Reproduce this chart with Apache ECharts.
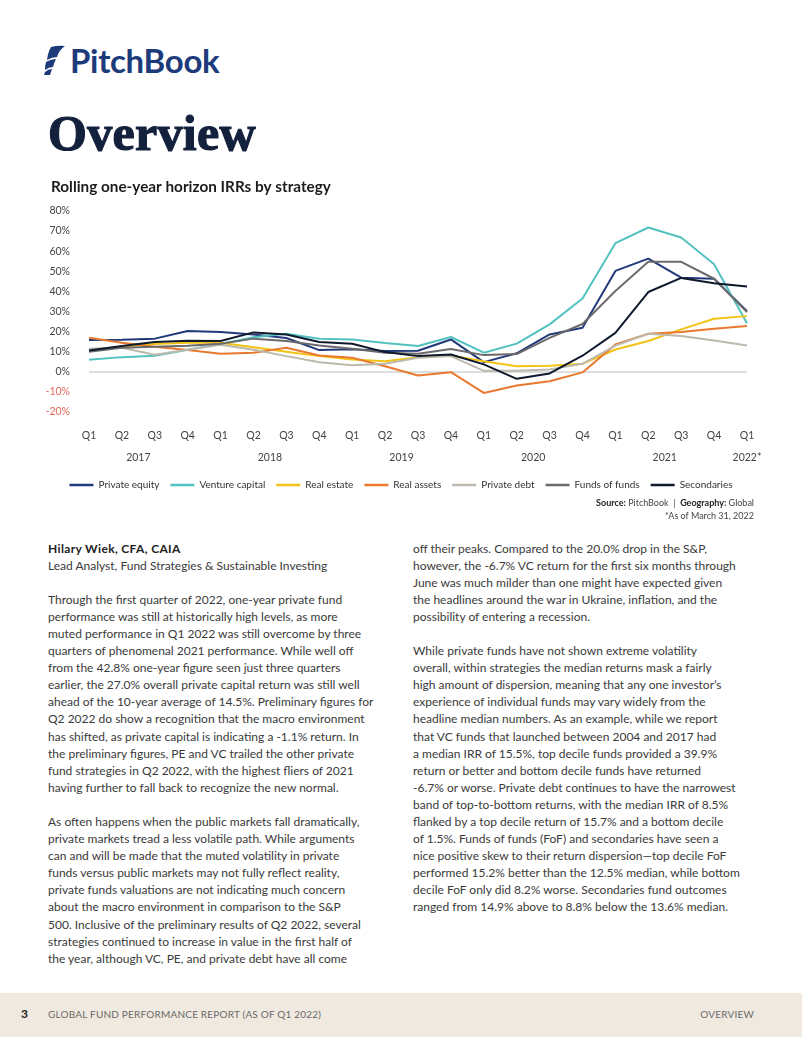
<!DOCTYPE html>
<html>
<head>
<meta charset="utf-8">
<script src="https://cdn.jsdelivr.net/npm/echarts@6/dist/echarts.min.js"></script>
<style>
  html, body { margin: 0; padding: 0; background: #fff; }
  body { width: 802px; height: 1037px; position: relative; overflow: hidden; font-family: Lato, "Noto Sans", sans-serif; }
  .abs { position: absolute; }
  #logo { left: 44px; top: 42px; height: 36px; display: flex; align-items: center; }
  #logo span { font-family: Lato, sans-serif; font-weight: 700; font-size: 33px; color: #1d3b7b; letter-spacing: -0.3px; margin-left: 4px; }
  #title { left: 48px; top: 104px; font-family: "Liberation Serif", serif; font-weight: 700; font-size: 50px; color: #14213d; -webkit-text-stroke: 1.2px #14213d; letter-spacing: 0.3px; }
  #chart { left: 0; top: 170px; width: 802px; height: 330px; }
  .src { right: 48px; font-family: Lato, sans-serif; font-size: 9px; color: #444; text-align: right; white-space: nowrap; }
  .col { font-family: Lato, sans-serif; font-size: 12px; color: #3a3a3a; line-height: 17.1px; white-space: nowrap; }
  .col div { height: 17.1px; }
  #footer { left: 0; top: 993px; width: 802px; height: 44px; background: #f0e9df; }
  #footer .n { position: absolute; left: 21px; top: 13px; font-weight: 700; font-size: 12px; color: #222; }
  #footer .t { position: absolute; left: 48px; top: 15px; font-size: 10px; color: #6a6a6a; letter-spacing: 0.2px; }
  #footer .r { position: absolute; right: 48px; top: 15px; font-size: 10px; color: #6a6a6a; letter-spacing: 0.2px; }
</style>
</head>
<body>
<div id="logo" class="abs">
  <svg width="22" height="30" viewBox="0 0 22 30">
    <path d="M7 2 Q14 0 21 1 Q15 5 13 12 Q8 12 3 15 Q4 7 7 2 Z" fill="#1d3b7b"/>
    <path d="M2 17 Q7 14 12 14 Q10 18 9 22 Q5 22 1 25 Q1 20 2 17 Z" fill="#1d3b7b"/>
    <path d="M1 27 Q4 24 8 24 Q7 27 6 30 Q3 30 0 30 Z" fill="#1d3b7b"/>
  </svg>
  <span>PitchBook</span>
</div>
<div id="title" class="abs">Overview</div>
<div id="chart" class="abs"></div>
<div class="abs src" style="top:497px;"><b style="color:#222">Source:</b> PitchBook &nbsp;|&nbsp; <b style="color:#222">Geography:</b> Global</div>
<div class="abs src" style="top:510px;">*As of March 31, 2022</div>

<div class="abs col" style="left:48px; top:539.5px;">
  <div style="font-weight:700; color:#222; letter-spacing:0.35px;">Hilary Wiek, CFA, CAIA</div>
  <div>Lead Analyst, Fund Strategies &amp; Sustainable Investing</div>
  <div></div>
  <div>Through the first quarter of 2022, one-year private fund</div>
  <div>performance was still at historically high levels, as more</div>
  <div>muted performance in Q1 2022 was still overcome by three</div>
  <div>quarters of phenomenal 2021 performance. While well off</div>
  <div>from the 42.8% one-year figure seen just three quarters</div>
  <div>earlier, the 27.0% overall private capital return was still well</div>
  <div>ahead of the 10-year average of 14.5%. Preliminary figures for</div>
  <div>Q2 2022 do show a recognition that the macro environment</div>
  <div>has shifted, as private capital is indicating a -1.1% return. In</div>
  <div>the preliminary figures, PE and VC trailed the other private</div>
  <div>fund strategies in Q2 2022, with the highest fliers of 2021</div>
  <div>having further to fall back to recognize the new normal.</div>
  <div></div>
  <div>As often happens when the public markets fall dramatically,</div>
  <div>private markets tread a less volatile path. While arguments</div>
  <div>can and will be made that the muted volatility in private</div>
  <div>funds versus public markets may not fully reflect reality,</div>
  <div>private funds valuations are not indicating much concern</div>
  <div>about the macro environment in comparison to the S&amp;P</div>
  <div>500. Inclusive of the preliminary results of Q2 2022, several</div>
  <div>strategies continued to increase in value in the first half of</div>
  <div>the year, although VC, PE, and private debt have all come</div>
</div>

<div class="abs col" style="left:413px; top:539.5px;">
  <div>off their peaks. Compared to the 20.0% drop in the S&amp;P,</div>
  <div>however, the -6.7% VC return for the first six months through</div>
  <div>June was much milder than one might have expected given</div>
  <div>the headlines around the war in Ukraine, inflation, and the</div>
  <div>possibility of entering a recession.</div>
  <div></div>
  <div>While private funds have not shown extreme volatility</div>
  <div>overall, within strategies the median returns mask a fairly</div>
  <div>high amount of dispersion, meaning that any one investor’s</div>
  <div>experience of individual funds may vary widely from the</div>
  <div>headline median numbers. As an example, while we report</div>
  <div>that VC funds that launched between 2004 and 2017 had</div>
  <div>a median IRR of 15.5%, top decile funds provided a 39.9%</div>
  <div>return or better and bottom decile funds have returned</div>
  <div>-6.7% or worse. Private debt continues to have the narrowest</div>
  <div>band of top-to-bottom returns, with the median IRR of 8.5%</div>
  <div>flanked by a top decile return of 15.7% and a bottom decile</div>
  <div>of 1.5%. Funds of funds (FoF) and secondaries have seen a</div>
  <div>nice positive skew to their return dispersion—top decile FoF</div>
  <div>performed 15.2% better than the 12.5% median, while bottom</div>
  <div>decile FoF only did 8.2% worse. Secondaries fund outcomes</div>
  <div>ranged from 14.9% above to 8.8% below the 13.6% median.</div>
</div>

<div id="footer" class="abs">
  <span class="n">3</span>
  <span class="t">GLOBAL FUND PERFORMANCE REPORT (AS OF Q1 2022)</span>
  <span class="r">OVERVIEW</span>
</div>

<script>
// ---- data ----
const categories = [
  'Q1 2017','Q2 2017','Q3 2017','Q4 2017',
  'Q1 2018','Q2 2018','Q3 2018','Q4 2018',
  'Q1 2019','Q2 2019','Q3 2019','Q4 2019',
  'Q1 2020','Q2 2020','Q3 2020','Q4 2020',
  'Q1 2021','Q2 2021','Q3 2021','Q4 2021',
  'Q1 2022'
];
const yearLabels = ['2017','2018','2019','2020','2021','2022*'];
const yTicks = [-20, 80, 10]; // min, max, step

const privateEquity   = [15.8, 16.0, 16.5, 20.3, 19.8, 18.6, 16.8, 10.8, 11.2, 10.3, 10.5, 16.1, 4.8, 9.2, 18.6, 21.9, 50.2, 56.3, 46.8, 46.3, 30.2];
const ventureCapital  = [6.0, 7.3, 8.0, 11.0, 13.8, 17.2, 18.9, 16.4, 16.1, 14.3, 12.8, 17.3, 9.5, 14.0, 23.6, 36.5, 64.0, 71.8, 66.8, 53.5, 24.1];
const realEstate      = [11.0, 12.5, 13.8, 14.5, 14.5, 12.2, 10.0, 7.8, 6.1, 5.3, 7.2, 8.1, 5.3, 2.8, 3.0, 4.0, 11.1, 15.3, 21.1, 26.4, 27.7];
const realAssets      = [16.9, 14.5, 12.5, 10.8, 9.0, 9.5, 12.0, 8.1, 7.0, 2.8, -1.8, -0.2, -10.5, -6.8, -4.7, -0.3, 13.6, 18.9, 19.8, 21.4, 22.8];
const privateDebt     = [11.5, 12.0, 8.5, 11.0, 13.5, 11.0, 7.8, 4.8, 3.2, 4.0, 7.0, 7.8, 0.5, 0.5, 1.2, 4.0, 13.0, 18.9, 17.8, 15.6, 13.1];
const fundsOfFunds    = [10.0, 12.0, 12.5, 13.0, 14.0, 16.5, 15.3, 13.1, 11.5, 9.5, 9.0, 11.3, 8.3, 8.8, 16.9, 23.8, 40.2, 54.7, 54.7, 46.3, 29.7];
const secondaries     = [10.6, 12.8, 14.8, 15.5, 15.3, 19.6, 18.6, 14.8, 14.0, 9.8, 7.8, 8.6, 3.7, -3.5, -0.8, 8.0, 19.4, 39.7, 46.7, 44.0, 42.4];

const seriesNames = ['Private equity','Venture capital','Real estate','Real assets','Private debt','Funds of funds','Secondaries'];
const seriesData = [privateEquity, ventureCapital, realEstate, realAssets, privateDebt, fundsOfFunds, secondaries];
const colors = ['#22397a','#52c2c0','#f2c314','#e8792f','#bdb9ae','#6b6b6b','#0e1a2c'];

// year label positions: centre of each year's quarters (by category index)
const yearPos = yearLabels.map(y => {
  const yr = y.replace('*','');
  const idx = categories.map((c,i)=>c.endsWith(yr)?i:-1).filter(i=>i>=0);
  return (idx[0] + idx[idx.length-1]) / 2;
});

const chartFont = "Lato, sans-serif";
const chart = echarts.init(document.getElementById('chart'), null, {renderer: 'canvas'});
chart.setOption({
  animation: false,
  color: colors,
  title: {
    text: 'Rolling one-year horizon IRRs by strategy',
    left: 46, top: 5,
    textStyle: { fontFamily: 'Lato, sans-serif', fontSize: 15.3, fontWeight: 'bold', color: '#1c1c1c' }
  },
  grid: { left: 89, right: 55, top: 41, height: 201 },
  legend: {
    data: seriesNames,
    top: 305, left: 'center',
    icon: 'rect', itemWidth: 24, itemHeight: 2.5, itemGap: 11,
    textStyle: { fontFamily: chartFont, fontSize: 10, color: '#333' }
  },
  xAxis: [
    {
      type: 'category', data: categories, boundaryGap: false,
      axisLine: { show: false }, axisTick: { show: false },
      axisLabel: { formatter: v => v.split(' ')[0], margin: 18, fontFamily: chartFont, fontSize: 10.5, color: '#444' }
    },
    {
      type: 'value', min: 0, max: categories.length - 1, position: 'bottom', offset: 22,
      axisLine: { show: false }, axisTick: { show: false }, splitLine: { show: false },
      axisLabel: {
        customValues: yearPos, showMinLabel: true, showMaxLabel: true,
        formatter: v => { const k = yearPos.indexOf(v); return k >= 0 ? yearLabels[k] : ''; },
        margin: 18, fontFamily: chartFont, fontSize: 10.5, color: '#444'
      }
    }
  ],
  yAxis: {
    type: 'value', min: yTicks[0], max: yTicks[1], interval: yTicks[2],
    axisLine: { show: false }, axisTick: { show: false }, splitLine: { show: false },
    axisLabel: {
      margin: 19, fontFamily: chartFont, fontSize: 10.5,
      formatter: v => v < 0 ? '{neg|' + v + '%}' : '{pos|' + v + '%}',
      rich: { neg: { color: '#e3685c', fontFamily: chartFont, fontSize: 10.5 }, pos: { color: '#444', fontFamily: chartFont, fontSize: 10.5 } }
    }
  },
  series: seriesNames.map((name, i) => ({
    name, type: 'line', data: seriesData[i], xAxisIndex: 0,
    symbol: 'none', lineStyle: { width: 2 }, z: 3 + i,
    markLine: i === 0 ? {
      silent: true, symbol: ['none','none'], label: { show: false },
      lineStyle: { color: '#dedede', width: 2, type: 'solid' },
      data: [{ yAxis: 0 }], z: 1
    } : undefined
  }))
});
</script>
</body>
</html>
